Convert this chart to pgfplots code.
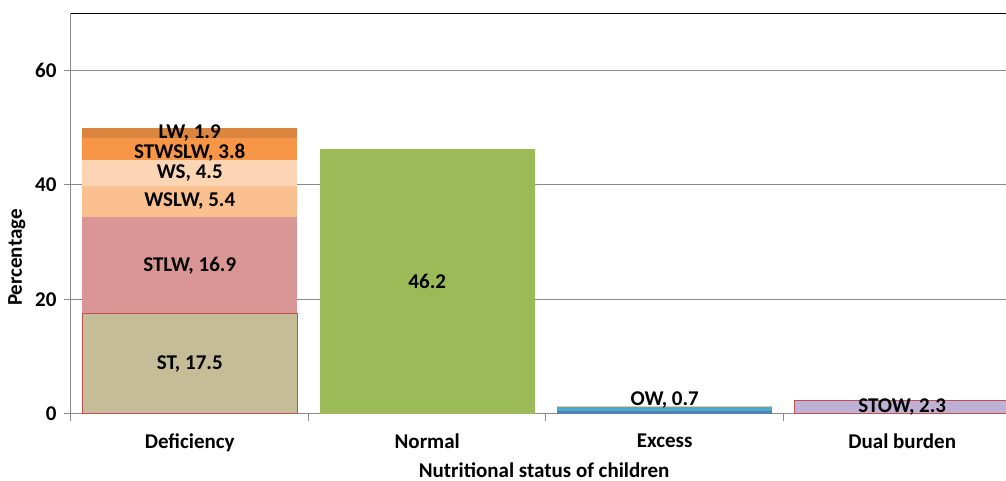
\documentclass[border=0pt]{standalone}
\usepackage{pgfplots}
\pgfplotsset{compat=1.18}
\usepackage{fontspec}
\setmainfont{Carlito}
\definecolor{cST}{HTML}{C4BD97}
\definecolor{cBorder}{HTML}{C0504D}
\definecolor{cSTLW}{HTML}{D99694}
\definecolor{cWSLW}{HTML}{FAC090}
\definecolor{cWS}{HTML}{FCD5B5}
\definecolor{cSTWSLW}{HTML}{F79646}
\definecolor{cLW}{HTML}{DA8540}
\definecolor{cN}{HTML}{9BBB59}
\definecolor{cBlue}{HTML}{4F81BD}
\definecolor{cOW}{HTML}{4BACC6}
\definecolor{cSTOW}{HTML}{BFB1D5}
\definecolor{cGrid}{HTML}{8A8A8A}
\newcommand{\cf}{\fontsize{21}{25}\selectfont\bfseries}
\begin{document}
\begin{tikzpicture}
\pgfplotsset{
  common/.style={
    scale only axis, width=935pt, height=401pt,
    at={(0,0)}, anchor=south west,
    xmin=-0.5, xmax=3.437, ymin=0, ymax=70,
  }
}
\begin{axis}[common,
  ybar stacked, bar width=0.906,
  axis x line*=bottom, axis y line*=left,
  separate axis lines,
  axis line style={cGrid, line width=1pt, -},
  every outer x axis line/.append style={cGrid, line width=1pt, -},
  every outer y axis line/.append style={cGrid, line width=1pt, -},
  ymajorgrids, grid style={cGrid, line width=1pt},
  ytick={0,20,40,60},
  xtick={-0.5,0.5,1.5,2.5}, xticklabels={},
  extra x ticks={0,1,2,3},
  extra x tick labels={Deficiency,Normal,Excess,Dual burden},
  extra x tick style={major tick length=0pt, grid=none},
  tick align=outside, major tick length=7pt,
  tick style={cGrid, line width=1pt},
  ticklabel style={font=\cf},
  /pgf/number format/assume math mode=true,
  xticklabel style={yshift=-16pt},
  yticklabel style={xshift=-4pt},
  xlabel={Nutritional status of children},
  ylabel={Percentage},
  every axis x label/.style={at={(rel axis cs:0.506,0)}, anchor=center, yshift=-56pt, font=\cf, inner sep=0pt},
  every axis y label/.style={at={(rel axis cs:-0.0578,0.39)}, anchor=center, rotate=90, font=\cf, inner sep=0pt},
]
% ST
\addplot[fill=cST, draw=cBorder, line width=1pt] coordinates {(0,17.5) (1,0) (2,0) (3,0)};
% STOW
\addplot[fill=cSTOW, draw=cBorder, line width=1pt] coordinates {(0,0) (1,0) (2,0) (3,2.3)};
% STLW
\addplot[fill=cSTLW, draw=none] coordinates {(0,16.9) (1,0) (2,0) (3,0)};
% WSLW
\addplot[fill=cWSLW, draw=none] coordinates {(0,5.4) (1,0) (2,0) (3,0)};
% WS
\addplot[fill=cWS, draw=none] coordinates {(0,4.5) (1,0) (2,0) (3,0)};
% STWSLW
\addplot[fill=cSTWSLW, draw=none] coordinates {(0,3.8) (1,0) (2,0) (3,0)};
% LW
\addplot[fill=cLW, draw=none] coordinates {(0,1.9) (1,0) (2,0) (3,0)};
% Normal
\addplot[fill=cN, draw=none] coordinates {(0,0) (1,46.2) (2,0) (3,0)};
% Excess (other)
\addplot[fill=cBlue, draw=none] coordinates {(0,0) (1,0) (2,0.5) (3,0)};
% OW
\addplot[fill=cOW, draw=none] coordinates {(0,0) (1,0) (2,0.7) (3,0)};
% thin top layer
\addplot[fill=cWSLW, draw=none] coordinates {(0,0) (1,0) (2,0.2) (3,0)};
\draw[black, line width=1.5pt] (rel axis cs:0,1) -- (rel axis cs:1,1);
\end{axis}
\begin{axis}[common, hide axis, clip=false]
\addplot[draw=none, mark=none, nodes near coords, point meta=explicit symbolic,
  every node near coord/.append style={anchor=center, font=\cf, inner sep=0pt}]
  coordinates {
    (0,8.75) [ST, 17.5]
    (0,25.95) [STLW, 16.9]
    (0,37.1) [WSLW, 5.4]
    (0,42.05) [WS, 4.5]
    (0,45.7) [STWSLW, 3.8]
    (0,49.0) [LW, 1.9]
    (1,23.1) [46.2]
    (2,2.45) [OW, 0.7]
    (3,1.15) [STOW, 2.3]
  };
\end{axis}
\pgfresetboundingbox
\path[use as bounding box] (-71pt,-67pt) rectangle (935pt,414pt);
\end{tikzpicture}
\end{document}
